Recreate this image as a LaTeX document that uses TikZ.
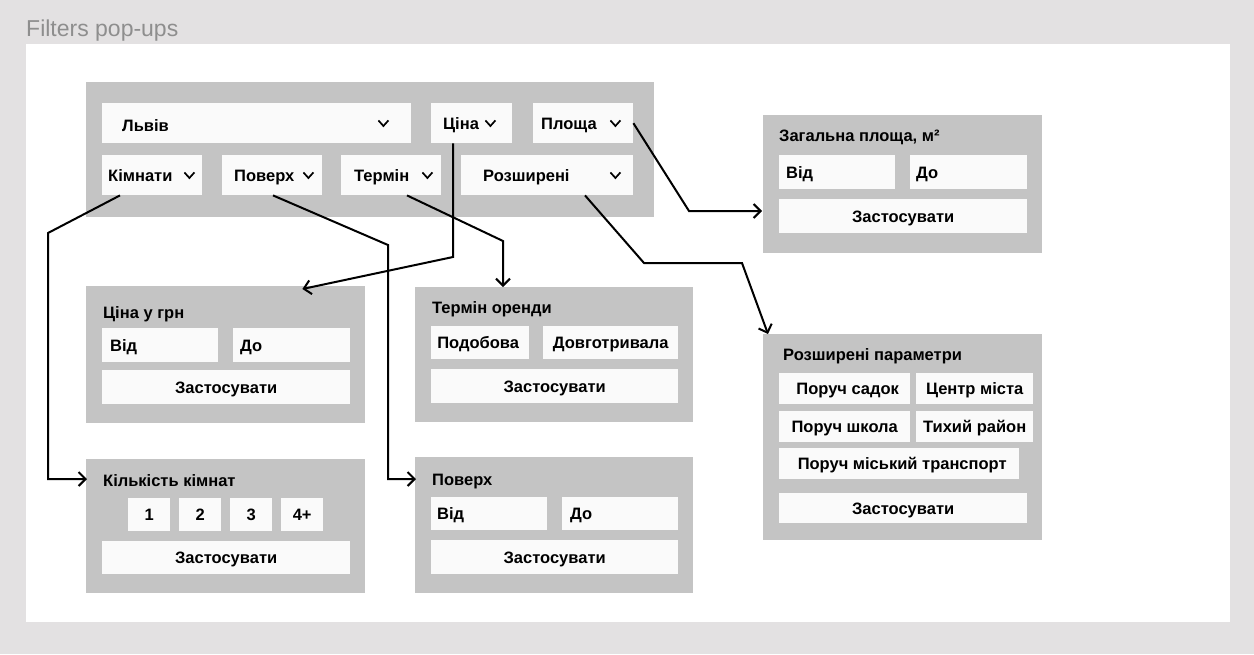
\documentclass[tikz,border=0pt]{standalone}
\usepackage{fontspec}
\setmainfont{Liberation Sans}
\usetikzlibrary{calc,arrows.meta}
\definecolor{bgc}{HTML}{E3E1E2}
\definecolor{panelc}{HTML}{C4C4C4}
\definecolor{fieldc}{HTML}{FAFAFA}
\definecolor{titlec}{HTML}{8E8E8E}
\tikzset{
  pan/.style 2 args={fill=panelc, draw=none, inner sep=0, anchor=north west, minimum width=#1, minimum height=#2},
  fld/.style 2 args={fill=fieldc, draw=none, inner sep=0, anchor=north west, minimum width=#1, minimum height=#2},
  lbl/.style={inner sep=0, font=\fontsize{16.5}{19}\selectfont\bfseries, text=black},
  lblw/.style={lbl, anchor=base west},
  lblc/.style={lbl, anchor=base},
  chevst/.style={line width=1.7pt, line join=miter},
  conn/.style={line width=2pt, -{Straight Barb[length=7pt,width=14pt,line width=2pt]}}
}
\newcommand{\chevat}[1]{\draw[chevst] ($(#1)+(-5,-2.8)$) -- ++(5,5.6) -- ++(5,-5.6);}
\begin{document}
\begin{tikzpicture}[x=1pt,y=-1pt]
\fill[bgc] (0,0) rectangle (1254,654);
\fill[white] (26,44) rectangle (1230,622);
\node[anchor=base west, inner sep=0, text=titlec, font=\fontsize{23}{27}\selectfont] (ttl) at (26,36) {Filters pop-ups};

% top bar
\node[pan={568}{135}] (bar) at (86,82) {};
\node[fld={309}{40}] (lviv) at (102,103) {};
\node[fld={81}{40}] (cina) at (431,103) {};
\node[fld={100}{40}] (plosh) at (533,103) {};
\node[fld={100}{40}] (kimn) at (102,155) {};
\node[fld={100}{40}] (pov) at (222,155) {};
\node[fld={100}{40}] (term) at (341,155) {};
\node[fld={172}{40}] (rozsh) at (461,155) {};
\node[lblw] (tlviv) at ($(lviv.west)+(20,8)$) {Львів};
\node[lblw] (tcina) at ($(cina.west)+(12,6)$) {Ціна};
\node[lblw] (tplosh) at ($(plosh.west)+(8,6)$) {Площа};
\node[lblw] (tkimn) at ($(kimn.west)+(6,6)$) {Кімнати};
\node[lblw] (tpov) at ($(pov.west)+(12,6)$) {Поверх};
\node[lblw] (tterm) at ($(term.west)+(13,6)$) {Термін};
\node[lblw] (trozsh) at ($(rozsh.west)+(22,6)$) {Розширені};
\chevat{$(lviv.east)+(-28,0)$}
\chevat{$(cina.east)+(-22,0)$}
\chevat{$(plosh.east)+(-18,0)$}
\chevat{$(kimn.east)+(-13,0)$}
\chevat{$(pov.east)+(-14,0)$}
\chevat{$(term.east)+(-14,0)$}
\chevat{$(rozsh.east)+(-18,0)$}

% Площа panel
\node[pan={279}{138}] (pA) at (763,115) {};
\node[lblw] (tA) at (779,141) {Загальна площа, м²};
\node[fld={116}{34}] (aVid) at (779,155) {};
\node[fld={117}{34}] (aDo) at (910,155) {};
\node[fld={248}{34}] (aApp) at (779,199) {};
\node[lblw] at ($(aVid.west)+(7,6)$) {Від};
\node[lblw] at ($(aDo.west)+(6,6)$) {До};
\node[lblc] at ($(aApp.center)+(0,6)$) {Застосувати};

% Розширені параметри panel
\node[pan={279}{206}] (pB) at (763,334) {};
\node[lblw] (tB) at (783,360) {Розширені параметри};
\node[fld={131}{31}] (bSad) at (779,373) {};
\node[fld={117}{31}] (bCen) at (916,373) {};
\node[fld={131}{31}] (bShk) at (779,411) {};
\node[fld={117}{31}] (bTyh) at (916,411) {};
\node[fld={240}{31}] (bTra) at (779,448) {};
\node[fld={248}{30}] (bApp) at (779,493) {};
\node[lblc] at ($(bSad.center)+(3,6)$) {Поруч садок};
\node[lblc] at ($(bCen.center)+(0,6)$) {Центр міста};
\node[lblc] at ($(bShk.center)+(0,6)$) {Поруч школа};
\node[lblc] at ($(bTyh.center)+(0,6)$) {Тихий район};
\node[lblc] at ($(bTra.center)+(3,6)$) {Поруч міський транспорт};
\node[lblc] at ($(bApp.center)+(0,6)$) {Застосувати};

% Ціна у грн panel
\node[pan={279}{137}] (pC) at (86,286) {};
\node[lblw] (tC) at (103,318.5) {Ціна у грн};
\node[fld={116}{34}] (cVid) at (102,328) {};
\node[fld={117}{34}] (cDo) at (233,328) {};
\node[fld={248}{34}] (cApp) at (102,370) {};
\node[lblw] at ($(cVid.west)+(8,6)$) {Від};
\node[lblw] at ($(cDo.west)+(7,6)$) {До};
\node[lblc] at ($(cApp.center)+(0,6)$) {Застосувати};

% Кількість кімнат panel
\node[pan={279}{134}] (pD) at (86,459) {};
\node[lblw] (tD) at (103,486.5) {Кількість кімнат};
\node[fld={42}{33}] (d1) at (128,498) {};
\node[fld={42}{33}] (d2) at (179,498) {};
\node[fld={42}{33}] (d3) at (230,498) {};
\node[fld={42}{33}] (d4) at (281,498) {};
\node[fld={248}{33}] (dApp) at (102,541) {};
\node[lblc] at ($(d1.center)+(0,6)$) {1};
\node[lblc] at ($(d2.center)+(0,6)$) {2};
\node[lblc] at ($(d3.center)+(0,6)$) {3};
\node[lblc] at ($(d4.center)+(0,6)$) {4+};
\node[lblc] at ($(dApp.center)+(0,6)$) {Застосувати};

% Термін оренди panel
\node[pan={278}{135}] (pE) at (415,287) {};
\node[lblw] (tE) at (432,313.5) {Термін оренди};
\node[fld={98}{33}] (ePod) at (431,326) {};
\node[fld={135}{33}] (eDov) at (543,326) {};
\node[fld={247}{34}] (eApp) at (431,369) {};
\node[lblc] at ($(ePod.center)+(-2,6)$) {Подобова};
\node[lblc] at ($(eDov.center)+(0,6)$) {Довготривала};
\node[lblc] at ($(eApp.center)+(0,6)$) {Застосувати};

% Поверх panel
\node[pan={278}{136}] (pF) at (415,457) {};
\node[lblw] (tF) at (432,485.5) {Поверх};
\node[fld={116}{33}] (fVid) at (431,497) {};
\node[fld={116}{33}] (fDo) at (562,497) {};
\node[fld={247}{34}] (fApp) at (431,540) {};
\node[lblw] at ($(fVid.west)+(6,6)$) {Від};
\node[lblw] at ($(fDo.west)+(8,6)$) {До};
\node[lblc] at ($(fApp.center)+(0,6)$) {Застосувати};

% connectors
\draw[conn] ($(kimn.south west)+(18,0)$) -- (48,233) |- ($(pD.north west)+(1,20)$);
\draw[conn] ($(pov.south west)+(51,0)$) -- (388,245) |- ($(pF.north west)+(1,22)$);
\draw[conn] ($(term.south west)+(66,0)$) -- (503,241) -- ($(pE.north west)+(88,0)$);
\draw[conn] ($(cina.south west)+(22,0)$) -- (453,257) -- ($(pC.north east)+(-63,3)$);
\draw[conn] (plosh.east) -- (689,211) -- ($(pA.north west)+(-1,96)$);
\draw[conn] ($(rozsh.south west)+(124,0)$) -- (644,263) -- (742,263) -- ($(pB.north west)+(5,0)$);
\end{tikzpicture}
\end{document}
